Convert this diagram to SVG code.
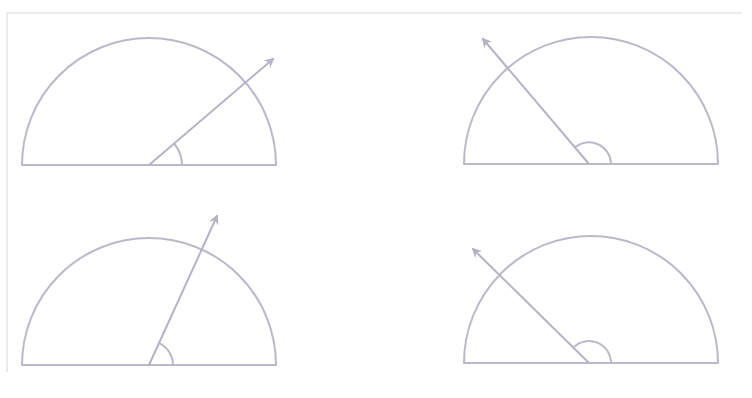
<svg xmlns="http://www.w3.org/2000/svg" width="752" height="398" viewBox="0 0 752 398">
<defs>
<marker id="ah" viewBox="0 0 10 10" refX="8" refY="5" markerWidth="5" markerHeight="5" orient="auto" markerUnits="strokeWidth">
<path d="M0,0 L10,5 L0,10 L3,5 Z" fill="#b4b4c6"/>
</marker>
<style>
.s{fill:none;stroke:#b9b9cb;stroke-width:2;stroke-linecap:round;stroke-linejoin:round}
.r{fill:none;stroke:#b4b4c6;stroke-width:2;stroke-linecap:round}
.b{fill:none;stroke:#e4e4e8;stroke-width:1.5}
</style>
</defs>
<rect width="752" height="398" fill="#ffffff"/>
<g id="frame">
<line class="b" x1="7" y1="13" x2="742" y2="13"/>
<line class="b" x1="7" y1="13" x2="7" y2="372"/>
</g>
<g id="fig1">
<path class="s" d="M22,165 A127,127 0 0 1 276,165 Z"/>
<path class="s" d="M182,165 A33,33 0 0 0 174,143.5"/>
</g>
<g id="fig2">
<path class="s" d="M464,164 A127,127 0 0 1 718,164 Z"/>
<path class="s" d="M611,164 A22,22 0 0 0 575,147.3"/>
</g>
<g id="fig3">
<path class="s" d="M22,365 A127,127 0 0 1 276,365 Z"/>
<path class="s" d="M173,365 A24,24 0 0 0 159,343.2"/>
</g>
<g id="fig4">
<path class="s" d="M464,363 A127,127 0 0 1 718,363 Z"/>
<path class="s" d="M611,363 A22,22 0 0 0 573.3,347.6"/>
</g>
<g id="connectors">
<line class="r" x1="149" y1="165" x2="273" y2="59" marker-end="url(#ah)"/>
<line class="r" x1="589" y1="164" x2="483" y2="39" marker-end="url(#ah)"/>
<line class="r" x1="149" y1="365" x2="217" y2="216" marker-end="url(#ah)"/>
<line class="r" x1="589" y1="363" x2="473" y2="249" marker-end="url(#ah)"/>
</g>
</svg>
